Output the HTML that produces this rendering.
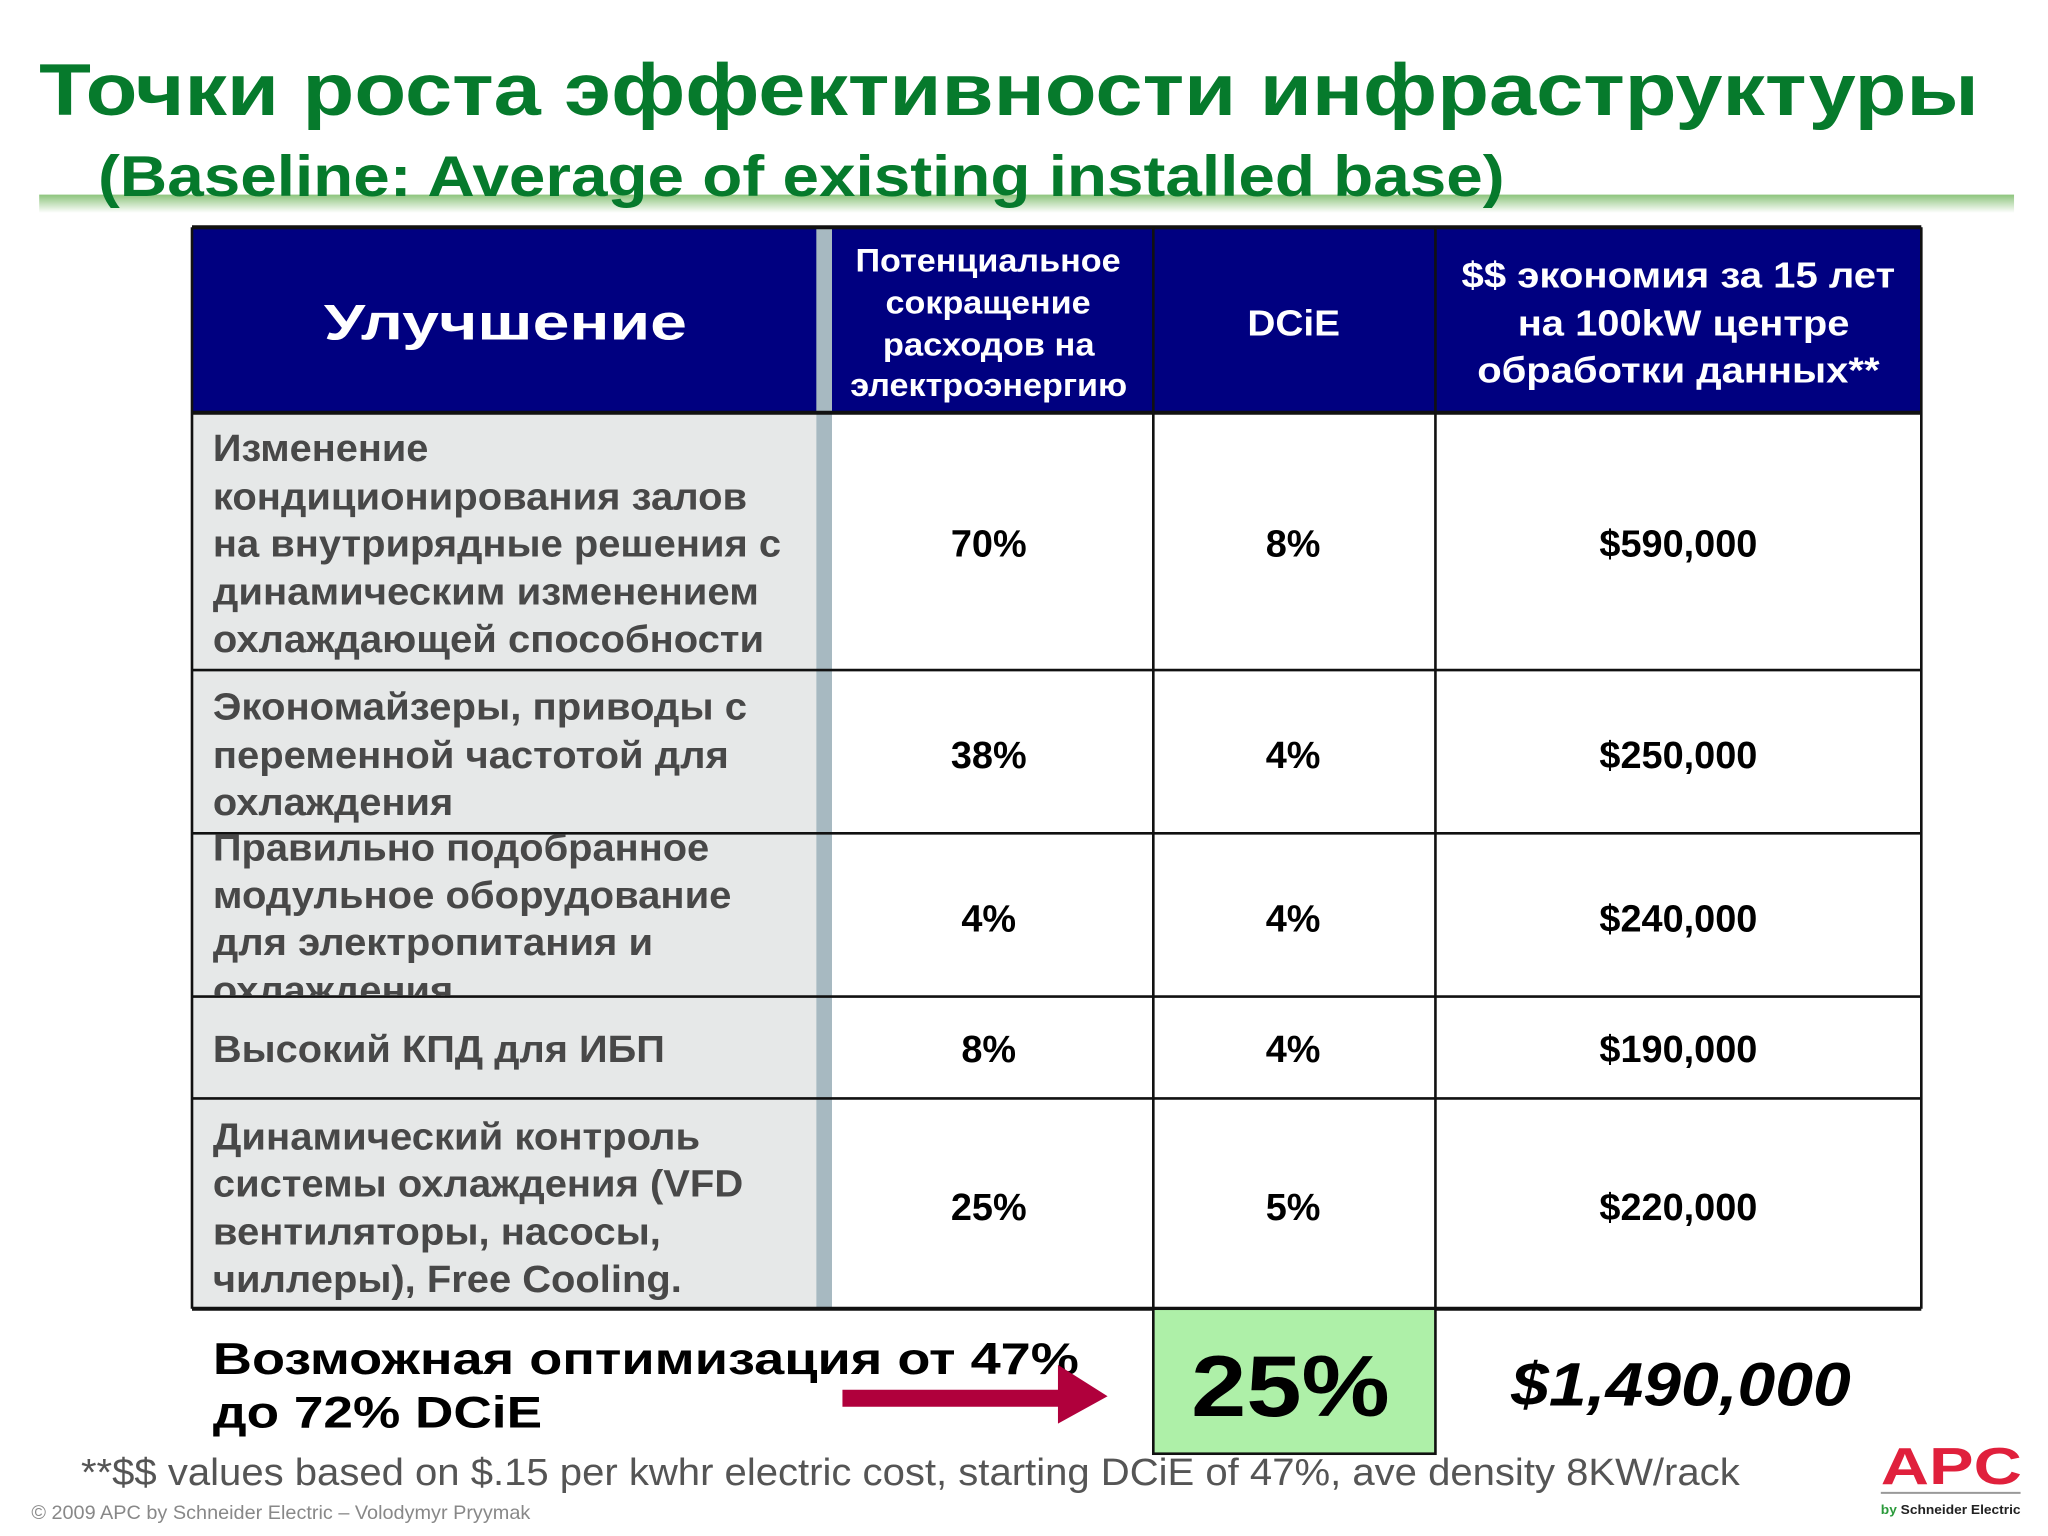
<!DOCTYPE html>
<html><head><meta charset="utf-8"><style>
html,body{margin:0;padding:0;background:#fff;}
svg{display:block;}
text{font-family:"Liberation Sans",Arial,sans-serif;}
</style></head><body>
<svg width="2048" height="1536" viewBox="0 0 1568 1176" xmlns="http://www.w3.org/2000/svg">
<defs>
<linearGradient id="gl" x1="0" y1="0" x2="0" y2="1">
<stop offset="0" stop-color="#8cc47c"/><stop offset="1" stop-color="#ffffff"/>
</linearGradient>
<clipPath id="r3"><rect x="147" y="639" width="478" height="123"/></clipPath>
</defs>
<rect width="1568" height="1176" fill="#fff"/>
<rect x="30" y="149" width="1512" height="14" fill="url(#gl)"/>
<text x="30" y="88" font-size="56" font-weight="bold" fill="#067a2c" textLength="1485" lengthAdjust="spacingAndGlyphs">Точки роста эффективности инфраструктуры</text>
<text x="75" y="150" font-size="44" font-weight="bold" fill="#067a2c" textLength="1077" lengthAdjust="spacingAndGlyphs">(Baseline: Average of existing installed base)</text>

<g>
<rect x="147" y="174" width="1324" height="142" fill="#000080"/>
<rect x="147" y="316" width="478" height="686" fill="#e6e8e8"/>
<rect x="625" y="174" width="12" height="828" fill="#a7b9c1"/>
<g stroke="#111" stroke-width="2" fill="none">
<line x1="147" y1="174" x2="1471" y2="174" stroke-width="3"/>
<line x1="147" y1="316" x2="1471" y2="316" stroke-width="3"/>
<line x1="147" y1="513" x2="1471" y2="513"/>
<line x1="147" y1="638" x2="1471" y2="638"/>
<line x1="147" y1="763" x2="1471" y2="763"/>
<line x1="147" y1="841" x2="1471" y2="841"/>
<line x1="147" y1="1002" x2="1471" y2="1002" stroke-width="3"/>
<line x1="147" y1="174" x2="147" y2="1002"/>
<line x1="883" y1="174" x2="883" y2="1002"/>
<line x1="1099" y1="174" x2="1099" y2="1002"/>
<line x1="1471" y1="174" x2="1471" y2="1002"/>
</g>
<g fill="#fff" font-weight="bold">
<text x="248" y="260" font-size="38" textLength="278" lengthAdjust="spacingAndGlyphs">Улучшение</text>
<g font-size="25">
<text x="655" y="208" textLength="203" lengthAdjust="spacingAndGlyphs">Потенциальное</text><text x="678" y="240" textLength="157" lengthAdjust="spacingAndGlyphs">сокращение</text><text x="676" y="272" textLength="162" lengthAdjust="spacingAndGlyphs">расходов на</text><text x="651" y="303" textLength="212" lengthAdjust="spacingAndGlyphs">электроэнергию</text></g>
<text x="955" y="257" font-size="28" textLength="71" lengthAdjust="spacingAndGlyphs">DCiE</text>
<g font-size="28">
<text x="1119" y="220" textLength="332" lengthAdjust="spacingAndGlyphs">$$ экономия за 15 лет</text><text x="1162" y="257" textLength="254" lengthAdjust="spacingAndGlyphs">на 100kW центре</text><text x="1131" y="293" textLength="308" lengthAdjust="spacingAndGlyphs">обработки данных**</text></g>
</g>
<g fill="#484848" font-weight="bold" font-size="29">
<g><text x="163" y="353" textLength="165" lengthAdjust="spacingAndGlyphs">Изменение</text><text x="163" y="390" textLength="409" lengthAdjust="spacingAndGlyphs">кондиционирования залов</text><text x="163" y="426" textLength="435" lengthAdjust="spacingAndGlyphs">на внутрирядные решения с</text><text x="163" y="463" textLength="418" lengthAdjust="spacingAndGlyphs">динамическим изменением</text><text x="163" y="499" textLength="422" lengthAdjust="spacingAndGlyphs">охлаждающей способности</text></g>
<g><text x="163" y="551" textLength="409" lengthAdjust="spacingAndGlyphs">Экономайзеры, приводы с</text><text x="163" y="588" textLength="395" lengthAdjust="spacingAndGlyphs">переменной частотой для</text><text x="163" y="624" textLength="184" lengthAdjust="spacingAndGlyphs">охлаждения</text></g>
<g clip-path="url(#r3)"><text x="163" y="659" textLength="380" lengthAdjust="spacingAndGlyphs">Правильно подобранное</text><text x="163" y="695" textLength="397" lengthAdjust="spacingAndGlyphs">модульное оборудование</text><text x="163" y="731" textLength="337" lengthAdjust="spacingAndGlyphs">для электропитания и</text><text x="163" y="768" textLength="184" lengthAdjust="spacingAndGlyphs">охлаждения</text></g>
<text x="163" y="813" textLength="346" lengthAdjust="spacingAndGlyphs">Высокий КПД для ИБП</text>
<g><text x="163" y="880" textLength="373" lengthAdjust="spacingAndGlyphs">Динамический контроль</text><text x="163" y="916" textLength="406" lengthAdjust="spacingAndGlyphs">системы охлаждения (VFD</text><text x="163" y="953" textLength="343" lengthAdjust="spacingAndGlyphs">вентиляторы, насосы,</text><text x="163" y="989" textLength="359" lengthAdjust="spacingAndGlyphs">чиллеры), Free Cooling.</text></g>
</g>
<g fill="#000" font-weight="bold" font-size="29" text-anchor="middle">
<text x="757" y="426">70%</text><text x="990" y="426">8%</text><text x="1285" y="426">$590,000</text>
<text x="757" y="588">38%</text><text x="990" y="588">4%</text><text x="1285" y="588">$250,000</text>
<text x="757" y="713">4%</text><text x="990" y="713">4%</text><text x="1285" y="713">$240,000</text>
<text x="757" y="813">8%</text><text x="990" y="813">4%</text><text x="1285" y="813">$190,000</text>
<text x="757" y="934">25%</text><text x="990" y="934">5%</text><text x="1285" y="934">$220,000</text>
</g>
</g>

<rect x="883" y="1002" width="216" height="111" fill="#aef0a8" stroke="#111" stroke-width="2"/>
<text x="912" y="1084" font-size="66" font-weight="900" fill="#000" textLength="152" lengthAdjust="spacingAndGlyphs">25%</text>
<text x="1157" y="1076" font-size="47" font-weight="bold" font-style="italic" fill="#000" textLength="260" lengthAdjust="spacingAndGlyphs">$1,490,000</text>
<g font-size="34" font-weight="bold" fill="#000">
<text x="163" y="1052" textLength="663" lengthAdjust="spacingAndGlyphs">Возможная оптимизация от 47%</text>
<text x="163" y="1093" textLength="252" lengthAdjust="spacingAndGlyphs">до 72% DCiE</text></g>
<polygon points="645,1064 810,1064 810,1045 848,1069 810,1090 810,1077 645,1077" fill="#b0003c"/>
<text x="62" y="1137" font-size="29" fill="#555" textLength="1270" lengthAdjust="spacingAndGlyphs">**$$ values based on $.15 per kwhr electric cost, starting DCiE of 47%, ave density 8KW/rack</text>
<text x="24" y="1163" font-size="15" fill="#888" textLength="382" lengthAdjust="spacingAndGlyphs">© 2009 APC by Schneider Electric – Volodymyr Pryymak</text>
<g>
<text x="1440" y="1136" font-size="40" font-weight="900" fill="#e0203c" textLength="108" lengthAdjust="spacingAndGlyphs">APC</text>
<line x1="1440" y1="1143" x2="1547" y2="1143" stroke="#999" stroke-width="1.5"/>
<text x="1440" y="1159" font-size="10" font-weight="bold" fill="#222" textLength="107" lengthAdjust="spacingAndGlyphs"><tspan fill="#2a9a3a">by</tspan> Schneider Electric</text>
</g>
</svg>
</body></html>
